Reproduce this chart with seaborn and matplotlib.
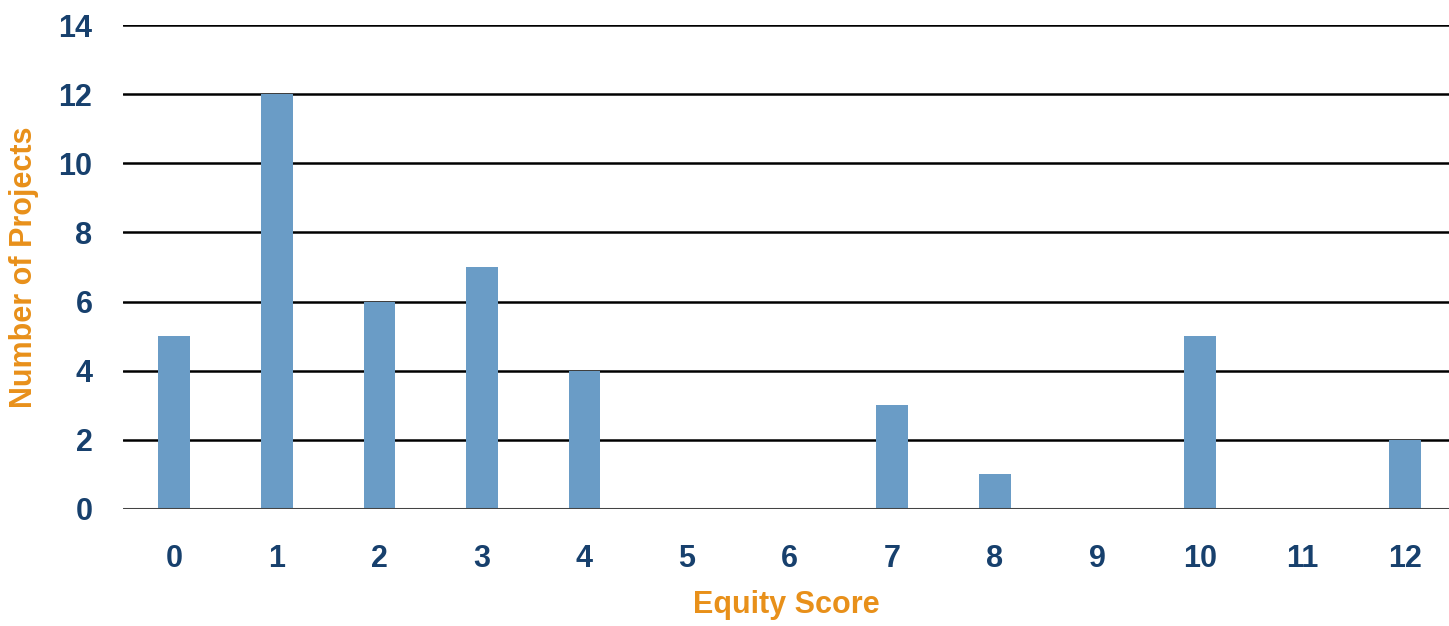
import matplotlib
matplotlib.use("Agg")
import matplotlib.pyplot as plt
from matplotlib import font_manager
import seaborn as sns
import pandas as pd

scores = ["0", "1", "2", "3", "4", "5", "6", "7", "8", "9", "10", "11", "12"]
projects = [5, 12, 6, 7, 4, 0, 0, 3, 1, 0, 5, 0, 2]
y_ticks = [0, 2, 4, 6, 8, 10, 12, 14]

sns.set_style("white")
names = {f.name for f in font_manager.fontManager.ttflist}
family = "Liberation Sans Narrow" if "Liberation Sans Narrow" in names else "Liberation Sans"
plt.rcParams["font.family"] = [family, "DejaVu Sans"]

df = pd.DataFrame({"score": scores, "projects": projects})

fig = plt.figure(figsize=(14.49, 6.26), dpi=100)
ax = fig.add_axes([0.0849, 0.187, 0.9151, 0.773])

# horizontal grid lines drawn behind the bars
for v in y_ticks[1:]:
    ax.axhline(v, color="black", lw=1.8, zorder=0)
ax.axhline(0, color="#444444", lw=2.2, zorder=3)

sns.barplot(data=df, x="score", y="projects", order=scores, color="#6A9CC6",
            saturation=1, width=0.31, linewidth=0, ax=ax, zorder=2)

ax.set_ylim(0, 14)
ax.set_xlim(-0.5, 12.43)
ax.set_yticks(y_ticks)
ax.tick_params(axis="both", length=0, labelsize=22, labelcolor="#17406D")
ax.tick_params(axis="y", pad=22)
ax.tick_params(axis="x", pad=25)
for lbl in ax.get_xticklabels() + ax.get_yticklabels():
    lbl.set_fontweight("bold")

ax.set_xlabel("Equity Score", fontsize=22, fontweight="bold", color="#E8901A", labelpad=12)
ax.set_ylabel("Number of Projects", fontsize=22, fontweight="bold", color="#E8901A", labelpad=14)

sns.despine(ax=ax, left=True, bottom=True, top=True, right=True)

fig.savefig("out.png", dpi=100)
